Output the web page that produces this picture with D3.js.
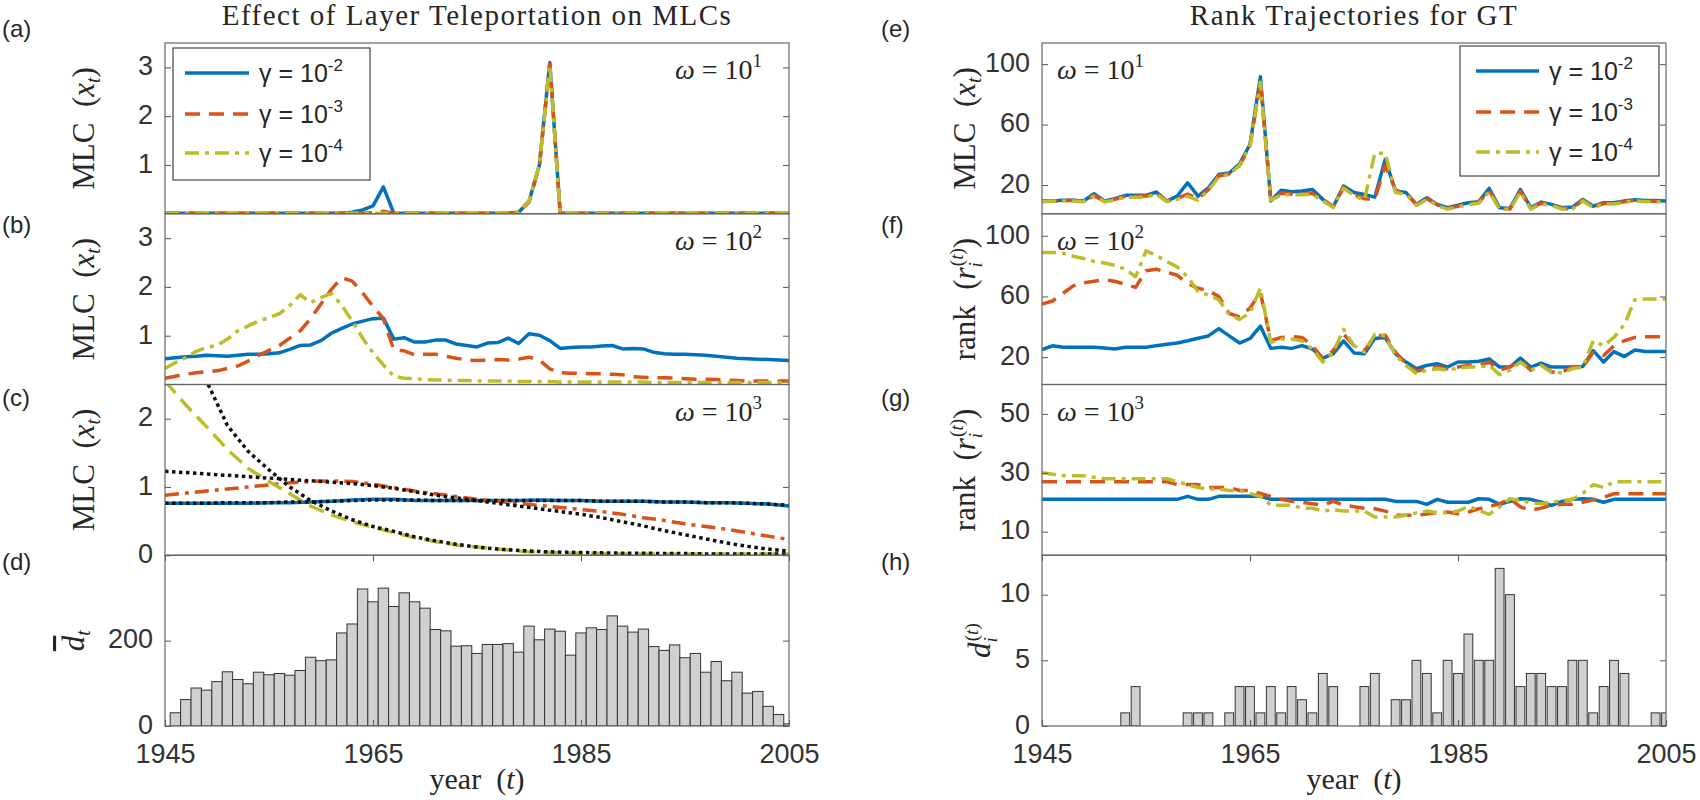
<!DOCTYPE html>
<html>
<head>
<meta charset="utf-8">
<script src="https://cdn.jsdelivr.net/npm/d3@7"></script>
<style>
  body { margin: 0; background: #fff; }
  svg { display: block; }
  .tk text { font-family: "Liberation Sans", Arial, sans-serif; font-size: 27px; fill: #333; }
  .tk line { stroke: #555; }
  .serif { font-family: "Liberation Serif", "Times New Roman", serif; fill: #262626; }
  .sans { font-family: "Liberation Sans", Arial, sans-serif; fill: #262626; }
</style>
</head>
<body>
<svg id="chart" width="1700" height="800"></svg>
<script>
// ---- data ----
const years = d3.range(1945, 2006);        // line series, one point per year
const yearsC = d3.range(1945, 2006, 2);    // panel (c) curves
const barYears = d3.range(1946, 2006);     // histogram bars
const xTicks = [1945, 1965, 1985, 2005];

// (a) omega = 10^1
const aBlue = [0.01,0.01,0.01,0.01,0.01,0.01,0.01,0.01,0.01,0.01,
  0.01,0.01,0.01,0.01,0.01,0.01,0.01,0.01,0.03,0.08,
  0.16,0.55,0.01,0.01,0.01,0.01,0.01,0.01,0.01,0.01,
  0.01,0.01,0.01,0.01,0.03,0.25,1.00,3.10,0.01,0.01,
  0.01,0.01,0.01,0.01,0.01,0.01,0.01,0.01,0.01,0.01,
  0.01,0.01,0.01,0.01,0.01,0.01,0.01,0.01,0.01,0.01,0.01];
const aRed = [0.01,0.01,0.01,0.01,0.01,0.01,0.01,0.01,0.01,0.01,
  0.01,0.01,0.01,0.01,0.01,0.01,0.01,0.01,0.01,0.01,
  0.02,0.05,0.01,0.01,0.01,0.01,0.01,0.01,0.01,0.01,
  0.01,0.01,0.01,0.01,0.03,0.24,0.98,3.08,0.01,0.01,
  0.01,0.01,0.01,0.01,0.01,0.01,0.01,0.01,0.01,0.01,
  0.01,0.01,0.01,0.01,0.01,0.01,0.01,0.01,0.01,0.01,0.01];
const aYellow = [0.01,0.01,0.01,0.01,0.01,0.01,0.01,0.01,0.01,0.01,
  0.01,0.01,0.01,0.01,0.01,0.01,0.01,0.01,0.01,0.01,
  0.01,0.01,0.01,0.01,0.01,0.01,0.01,0.01,0.01,0.01,
  0.01,0.01,0.01,0.01,0.04,0.26,1.00,3.05,0.01,0.01,
  0.01,0.01,0.01,0.01,0.01,0.01,0.01,0.01,0.01,0.01,
  0.01,0.01,0.01,0.01,0.01,0.01,0.01,0.01,0.01,0.01,0.01];

// (b) omega = 10^2
const bBlue = [0.53,0.55,0.57,0.58,0.60,0.59,0.58,0.60,0.62,0.62,
  0.63,0.65,0.72,0.80,0.81,0.90,1.05,1.15,1.24,1.30,
  1.35,1.36,0.93,0.96,0.87,0.87,0.91,0.91,0.83,0.80,
  0.77,0.85,0.86,0.95,0.84,1.04,1.01,0.90,0.74,0.76,
  0.77,0.77,0.79,0.80,0.73,0.74,0.73,0.66,0.63,0.62,
  0.62,0.61,0.60,0.58,0.56,0.54,0.53,0.52,0.51,0.50,0.49];
const bRed = [0.13,0.17,0.21,0.24,0.26,0.28,0.33,0.38,0.48,0.60,
  0.70,0.80,0.95,1.10,1.35,1.65,1.95,2.19,2.12,1.88,
  1.60,1.35,0.71,0.69,0.61,0.62,0.62,0.58,0.54,0.50,
  0.49,0.50,0.51,0.50,0.52,0.56,0.50,0.32,0.24,0.23,
  0.23,0.22,0.22,0.21,0.20,0.16,0.15,0.14,0.14,0.13,
  0.12,0.11,0.11,0.10,0.09,0.08,0.07,0.07,0.07,0.07,0.07];
const bYellow = [0.33,0.45,0.55,0.68,0.76,0.80,0.93,1.10,1.20,1.30,
  1.37,1.45,1.62,1.84,1.68,1.78,1.87,1.62,1.30,0.95,
  0.65,0.40,0.17,0.13,0.12,0.10,0.09,0.09,0.08,0.08,
  0.07,0.07,0.07,0.07,0.06,0.06,0.06,0.06,0.05,0.05,
  0.05,0.05,0.05,0.05,0.05,0.05,0.05,0.04,0.04,0.04,
  0.04,0.04,0.04,0.04,0.04,0.04,0.04,0.04,0.04,0.04,0.04];

// (c) omega = 10^3, every second year, with the black dotted fits
const cBlue = [0.76,0.76,0.76,0.76,0.76,0.77,0.77,0.78,0.79,0.81,0.82,0.82,0.80,0.80,0.80,0.80,
  0.80,0.80,0.81,0.80,0.80,0.79,0.79,0.79,0.78,0.78,0.77,0.77,0.76,0.75,0.72];
const cRed = [0.88,0.91,0.94,0.97,1.00,1.03,1.06,1.08,1.09,1.08,1.04,0.99,0.94,0.90,0.86,0.82,
  0.79,0.76,0.73,0.70,0.67,0.64,0.60,0.55,0.51,0.46,0.42,0.38,0.33,0.28,0.23];
const cYellow = [2.55,2.20,1.88,1.55,1.27,1.08,0.90,0.72,0.59,0.49,0.41,0.33,0.26,0.20,0.15,0.12,
  0.09,0.06,0.045,0.035,0.03,0.025,0.02,0.02,0.02,0.02,0.02,0.02,0.02,0.02,0.02];
const cFitBlue = [0.76,0.76,0.76,0.77,0.77,0.77,0.78,0.78,0.79,0.80,0.81,0.81,0.81,0.80,0.80,0.80,
  0.80,0.80,0.80,0.80,0.80,0.79,0.79,0.79,0.78,0.78,0.77,0.77,0.76,0.75,0.73];
const cFitRed = [1.23,1.21,1.19,1.17,1.15,1.13,1.11,1.09,1.07,1.05,1.02,0.98,0.93,0.88,0.84,0.80,
  0.76,0.72,0.68,0.64,0.60,0.55,0.49,0.43,0.36,0.30,0.24,0.18,0.13,0.09,0.06];
const cFitYellow = [3.90,3.30,2.55,1.90,1.52,1.25,1.00,0.80,0.65,0.52,0.42,0.35,0.27,0.21,0.16,0.12,
  0.09,0.07,0.055,0.045,0.04,0.035,0.03,0.03,0.025,0.025,0.02,0.02,0.02,0.02,0.02];

// (d) mean degree per year
const dBars = [31,62,89,84,104,127,109,99,126,120,
  123,119,130,161,153,155,218,239,321,291,
  323,280,312,291,276,226,223,187,188,170,
  191,191,193,173,234,202,227,222,166,218,
  230,226,258,234,220,227,186,177,190,160,
  170,126,151,106,126,77,81,46,27,5];

// (e) omega = 10^1, GT
const eBlue = [9.4,9.4,10,10,9.4,14.2,9.4,11,13.2,13.2,
  13.2,15.4,9.4,12.7,21.5,12.7,18.2,27,28,34,
  47,91.6,9.4,16.5,15.6,16,17,10.5,5.6,19.3,
  15,13.8,12,37,16,15,7.2,11.6,7.2,5,
  6.7,8.3,9,17.8,5,4.5,17.1,5,8.7,7.2,
  5,5.4,10.5,6,8.3,8.3,9.4,10.3,9.8,9.8,9.4];
const eRed = [9.4,9.4,9.8,9.8,9.4,13,9.4,10.5,12.5,12.5,
  12.7,14.5,9.4,11,14,11,17,26,27.5,33,
  46,88,10.5,14.5,14,14,14.5,10,5.6,18.5,
  13.5,11,10.5,33,16.5,14.5,7,11,7,4.5,
  6,7.5,8.5,16.5,4.5,4.2,16,4.5,8,6.8,
  4.5,4.5,10,5.5,7.8,8,9,10,9.5,9.3,9];
const eYellow = [9,9.2,9.5,9.5,9,12.5,9,10,12,12,
  12,14,9,10.5,12.5,10,16.5,25.5,27,33,
  46,88,10,13.5,13.5,13.5,14,9.5,5.2,18,
  13,10,41,41,15,14,6.5,10.5,6.5,4,
  5.5,7,8,15.5,4,3.8,15.5,4,7.5,6.5,
  4,4.2,9.5,5,7.5,7.5,8.5,9.5,9,9,8.5];

// (f) omega = 10^2, rank
const fBlue = [25,27.5,26.5,26.5,26.5,26.5,26,25.4,26.5,26.5,
  26.5,27.6,28.5,29.3,30.8,32.5,34,38.8,34,29.3,
  32.3,40.5,25.8,26.5,25.8,27.6,25.4,19.4,22.2,30.8,
  22.8,22.2,32.3,33,22.2,16.8,12.4,14.6,15.7,13.5,
  16.8,16.8,17.3,18.9,13.5,13.5,19.4,13.5,16.1,13.5,
  13.5,13.5,13.9,24.3,16.8,23.7,20.4,24.7,23.7,23.7,23.7];
const fRed = [55,57,62,67,69,70,71,70,68,66,
  77,78,76,74,68.6,65.4,63.9,60,48.8,46.5,
  52.4,62.6,30.8,33,33.6,33,27.6,18.9,24.3,35.1,
  27.6,24.3,34,34.5,23.2,15.7,10.7,12.4,13.5,12.4,
  13.5,14.6,14.6,16.8,11.4,13.5,17.8,11.4,15,10.3,
  10.3,13.5,13.5,23.2,21.1,27.6,30.8,33,33.4,33.4,33.4];
const fYellow = [89,89,88.5,86.5,85,83,82,80.5,78,73,
  90,87,83,79.5,73,63.2,61,57.8,48.1,44.9,
  49.2,65.4,29.7,31.9,31.9,30.8,25.4,16.8,23.2,38.4,
  27.6,23.2,35.1,34,21.1,14.6,9.2,11.4,12.4,11.4,
  12.9,13.5,13.5,14.6,8.5,11.4,16.8,11.4,14.6,9.8,
  9.8,12.4,13.5,30.8,27.6,33,41.6,57.8,58.3,58.3,58.3];

// (g) omega = 10^3, rank
const gBlue = [21,21,21,21,21,21,21,21,21,21,
  21,21,21,21,22,21,21,22,22,22,
  22,22,21,21,21,21,21,21,21,21,
  21,21,21,21,20.3,20.3,20.3,19.3,21,20,
  20,20,21.2,21,19.3,20.3,21.2,21,20,18.9,
  20.3,21,21.2,21,20,21,21,21,21,21,21];
const gRed = [27,27,27,27,27,27,27,27,27,27,
  27,27,27,26,26,26,25,25,25,24,
  24,23,22,21,20.3,20,19.5,19,20.3,19,
  18.5,18,17.8,17,15.6,15.6,15.6,16,16.5,16.7,
  16.1,16.7,17.8,18.5,19.5,21.2,18.4,17.3,18,19,
  19.3,19.3,20,20.8,21.7,22.9,22.9,22.9,22.9,22.9,22.9];
const gYellow = [30,29.5,29,29,29,28.5,28,28,28,28,
  28,28,28,27,26,25,24.5,24.5,24,24,
  23,22,19,19,19,18,18,17,17.5,17,
  17,17,15,15,15,15.6,16.4,17,16.4,16.4,
  17,18.6,17.3,15.9,18.4,21.2,20.6,19.8,19.5,20,
  20.5,21,23,26,25,27,27,27,27,27,27];

// (h) degree of GT per year
const hBars = [0,0,0,0,0,0,0,1,3,0,
  0,0,0,1,1,1,0,1,3,3,
  1,3,1,3,2,1,4,3,0,0,
  3,4,0,2,2,5,4,1,5,4,
  7,5,5,12,10,3,4,4,3,3,
  5,5,1,3,5,4,0,0,1,1];

const gammaLabels = ["-2", "-3", "-4"];

// ---- layout ----
const svg = d3.select("#chart");
const defs = svg.append("defs");
const cBlueCol = "#0072BD", cRedCol = "#D95319", cYelCol = "#BDBD2B";
const leftX = [165, 789], rightX = [1042, 1666];
const top0 = 43, panelH = 170.75;
const lw = 3.5;
const dashRed = "15,9", dashDot = "14,6,4,6", dashLong = "16,8", dotted = "3.5,3.5";

function panel(id, xr, row, yDomain, yTicks, bottom) {
  const y0 = top0 + row * panelH, y1 = y0 + panelH;
  const x = d3.scaleLinear().domain([1945, 2005]).range(xr);
  const y = d3.scaleLinear().domain(yDomain).range([y1, y0]);
  const g = svg.append("g");
  defs.append("clipPath").attr("id", "clip-" + id).append("rect")
    .attr("x", xr[0]).attr("y", y0).attr("width", xr[1] - xr[0]).attr("height", panelH);
  const plot = g.append("g").attr("clip-path", "url(#clip-" + id + ")");
  return { x, y, g, plot, y0, y1, xr, yTicks, bottom };
}

function finishAxes(p) {
  // y ticks inside on both sides
  p.g.append("g").attr("class", "tk").attr("transform", `translate(${p.xr[0]},0)`)
    .call(d3.axisLeft(p.y).tickValues(p.yTicks).tickSize(-6).tickPadding(12).tickFormat(d3.format("d")))
    .call(a => a.select(".domain").remove())
    .call(a => a.selectAll("text").attr("dy", "0.27em"));
  p.g.append("g").attr("class", "tk").attr("transform", `translate(${p.xr[1]},0)`)
    .call(d3.axisRight(p.y).tickValues(p.yTicks).tickSize(-6).tickFormat(""))
    .call(a => a.select(".domain").remove());
  if (p.bottom) {
    p.g.append("g").attr("class", "tk").attr("transform", `translate(0,${p.y1})`)
      .call(d3.axisBottom(p.x).tickValues(xTicks).tickSize(-6).tickPadding(18).tickFormat(d3.format("d")))
      .call(a => a.select(".domain").remove());
    p.g.append("g").attr("class", "tk").attr("transform", `translate(0,${p.y0})`)
      .call(d3.axisTop(p.x).tickValues(xTicks).tickSize(-6).tickFormat(""))
      .call(a => a.select(".domain").remove());
  }
  p.g.append("rect").attr("x", p.xr[0]).attr("y", p.y0)
    .attr("width", p.xr[1] - p.xr[0]).attr("height", panelH)
    .attr("fill", "none").attr("stroke", "#666").attr("stroke-width", 1.2);
}

function drawLine(p, xs, ys, color, dash, width) {
  const line = d3.line().x((d, i) => p.x(xs[i])).y(d => p.y(d));
  p.plot.append("path").datum(ys).attr("d", line)
    .attr("fill", "none").attr("stroke", color).attr("stroke-width", width || lw)
    .attr("stroke-dasharray", dash || null).attr("stroke-linejoin", "round");
}

function drawBars(p, xs, vals, w) {
  p.plot.selectAll("rect.bar").data(vals.map((v, i) => [xs[i], v]).filter(d => d[1] > 0))
    .join("rect").attr("class", "bar")
    .attr("x", d => p.x(d[0] - w / 2)).attr("width", d => p.x(d[0] + w / 2) - p.x(d[0] - w / 2))
    .attr("y", d => p.y(d[1])).attr("height", d => p.y(0) - p.y(d[1]))
    .attr("fill", "#d0d0d0").attr("stroke", "#333").attr("stroke-width", 1);
}

function rich(sel, parts) {
  parts.forEach(q => {
    const ts = sel.append("tspan").text(q.t);
    if (q.it) ts.attr("font-style", "italic");
    if (q.fs) ts.attr("font-size", q.fs);
    if (q.dy) ts.attr("dy", q.dy);
    if (q.dx) ts.attr("dx", q.dx);
    if (q.over) ts.attr("text-decoration", "overline");
  });
  return sel;
}

function yLabel(cx, cy, parts, size) {
  const t = svg.append("text").attr("class", "serif").attr("font-size", size || 31)
    .attr("text-anchor", "middle").attr("transform", `translate(${cx},${cy}) rotate(-90)`);
  rich(t, parts);
}

function omega(p, exp, anchorLeft) {
  const t = svg.append("text").attr("class", "serif").attr("font-size", 28)
    .attr("x", anchorLeft ? p.xr[0] + 15 : p.xr[1] - 27).attr("y", p.y0 + 36)
    .attr("text-anchor", anchorLeft ? "start" : "end");
  rich(t, [{ t: "ω", it: 1 }, { t: " = 10" }, { t: exp, fs: 19, dy: -12 }]);
}

function legend(bx, by, bw, bh, rows, lx0, lx1, tx) {
  svg.append("rect").attr("x", bx).attr("y", by).attr("width", bw).attr("height", bh)
    .attr("fill", "#fff").attr("stroke", "#444").attr("stroke-width", 1.2);
  const styles = [[cBlueCol, null], [cRedCol, dashRed], [cYelCol, dashDot]];
  rows.forEach((ry, i) => {
    svg.append("line").attr("x1", lx0).attr("x2", lx1).attr("y1", ry).attr("y2", ry)
      .attr("stroke", styles[i][0]).attr("stroke-width", lw).attr("stroke-dasharray", styles[i][1]);
    const t = svg.append("text").attr("class", "sans").attr("font-size", 25)
      .attr("x", tx).attr("y", ry + 9);
    rich(t, [{ t: "γ = 10" }, { t: gammaLabels[i], fs: 17, dy: -11 }]);
  });
}

// ---- left column ----
const pa = panel("a", leftX, 0, [0, 3.5], [1, 2, 3]);
drawLine(pa, years, aBlue, cBlueCol);
drawLine(pa, years, aRed, cRedCol, dashRed);
drawLine(pa, years, aYellow, cYelCol, dashDot);
finishAxes(pa);

const pb = panel("b", leftX, 1, [0, 3.5], [1, 2, 3]);
drawLine(pb, years, bBlue, cBlueCol);
drawLine(pb, years, bRed, cRedCol, dashRed);
drawLine(pb, years, bYellow, cYelCol, dashDot);
finishAxes(pb);

const pc = panel("c", leftX, 2, [0, 2.5], [0, 1, 2]);
drawLine(pc, yearsC, cBlue, cBlueCol);
drawLine(pc, yearsC, cRed, cRedCol, dashDot);
drawLine(pc, yearsC, cYellow, cYelCol, dashLong);
drawLine(pc, yearsC, cFitBlue, "#111", dotted);
drawLine(pc, yearsC, cFitRed, "#111", dotted);
drawLine(pc, yearsC, cFitYellow, "#111", dotted);
finishAxes(pc);

const pd = panel("d", leftX, 3, [0, 400], [0, 200], true);
drawBars(pd, barYears, dBars, 1);
finishAxes(pd);

// ---- right column ----
const pe = panel("e", rightX, 0, [1, 114], [20, 60, 100]);
drawLine(pe, years, eBlue, cBlueCol);
drawLine(pe, years, eRed, cRedCol, dashRed);
drawLine(pe, years, eYellow, cYelCol, dashDot);
finishAxes(pe);

const pf = panel("f", rightX, 1, [2, 114.5], [20, 60, 100]);
drawLine(pf, years, fBlue, cBlueCol);
drawLine(pf, years, fRed, cRedCol, dashRed);
drawLine(pf, years, fYellow, cYelCol, dashDot);
finishAxes(pf);

const pg = panel("g", rightX, 2, [2, 60], [10, 30, 50]);
drawLine(pg, years, gBlue, cBlueCol);
drawLine(pg, years, gRed, cRedCol, dashRed);
drawLine(pg, years, gYellow, cYelCol, dashDot);
finishAxes(pg);

const ph = panel("h", rightX, 3, [0, 13], [0, 5, 10], true);
drawBars(ph, barYears, hBars, 0.85);
finishAxes(ph);

// ---- legends, annotations ----
legend(173, 48, 197, 132, [73, 114, 153], 185, 249, 259);
legend(1460, 46, 199, 130, [71, 112, 152], 1476, 1539, 1549);
omega(pa, "1"); omega(pb, "2"); omega(pc, "3");
omega(pe, "1", true); omega(pf, "2", true); omega(pg, "3", true);

// titles
svg.append("text").attr("class", "serif").attr("font-size", 29).attr("letter-spacing", 1.5)
  .attr("x", 477).attr("y", 25).attr("text-anchor", "middle").text("Effect of Layer Teleportation on MLCs");
svg.append("text").attr("class", "serif").attr("font-size", 29).attr("letter-spacing", 1.5)
  .attr("x", 1354).attr("y", 25).attr("text-anchor", "middle").text("Rank Trajectories for GT");

// panel letters
const letterY = [37, 233, 406, 570];
["(a)", "(b)", "(c)", "(d)"].forEach((s, i) =>
  svg.append("text").attr("class", "sans").attr("font-size", 24).attr("x", 2).attr("y", letterY[i]).text(s));
["(e)", "(f)", "(g)", "(h)"].forEach((s, i) =>
  svg.append("text").attr("class", "sans").attr("font-size", 24).attr("x", 881).attr("y", letterY[i]).text(s));

// y labels
const mlc = [{ t: "MLC\u2002(" }, { t: "x", it: 1 }, { t: "t", it: 1, fs: 20, dy: 6 }, { t: ")", dy: -6 }];
const rank = [{ t: "rank\u2002(" }, { t: "r", it: 1 }, { t: "i", it: 1, fs: 19, dy: 7 },
  { t: "(", fs: 19, dx: -4, dy: -19 }, { t: "t", it: 1, fs: 19 }, { t: ")", fs: 19 }, { t: ")", dy: 12 }];
const pcy = r => top0 + r * panelH + panelH / 2;
yLabel(94, pcy(0), mlc);
yLabel(94, pcy(1), mlc);
yLabel(94, pcy(2), mlc);
yLabel(84, pcy(3), [{ t: "d", it: 1, over: 1 }, { t: "t", it: 1, fs: 20, dy: 6 }]);
yLabel(975, pcy(0), mlc);
yLabel(975, pcy(1), rank);
yLabel(975, pcy(2), rank);
yLabel(990, pcy(3), [{ t: "d", it: 1 }, { t: "i", it: 1, fs: 19, dy: 7 },
  { t: "(", fs: 19, dx: -4, dy: -19 }, { t: "t", it: 1, fs: 19 }, { t: ")", fs: 19 }]);

// x labels
[477, 1354].forEach(cx => {
  const t = svg.append("text").attr("class", "serif").attr("font-size", 30)
    .attr("x", cx).attr("y", 789).attr("text-anchor", "middle");
  rich(t, [{ t: "year\u2002(" }, { t: "t", it: 1 }, { t: ")" }]);
});
</script>
</body>
</html>
